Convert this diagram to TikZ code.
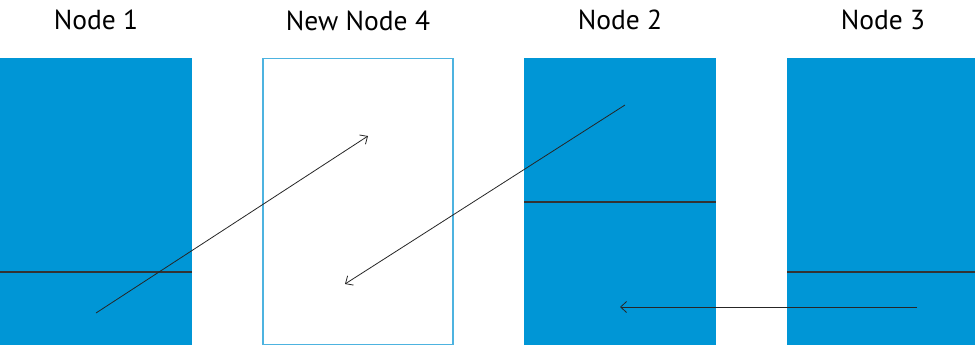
\documentclass[tikz,border=0pt]{standalone}
\usepackage{fontspec}
\newfontfamily\titlefont{PT Sans}
\usetikzlibrary{positioning,arrows.meta,calc}

\definecolor{nodeblue}{HTML}{0096D6}
\definecolor{newblue}{HTML}{4DB3E0}

\tikzset{
	memnode/.style={rectangle,fill=nodeblue,minimum width=192pt,minimum height=287pt,inner sep=0pt,outer sep=0pt},
	newnode/.style={rectangle,draw=newblue,line width=1.2pt,fill=white,minimum width=190pt,minimum height=286pt,inner sep=0pt,outer sep=0pt},
	title/.style={font=\titlefont\fontsize{27.5}{30}\selectfont,inner sep=0pt},
	split/.style={line width=1.3pt,draw=black!80},
	move/.style={draw=black!85,line width=0.8pt,-{Straight Barb[length=6pt,width=11pt]}},
}

\begin{document}
\begin{tikzpicture}[x=1pt,y=-1pt]
		\useasboundingbox (0,0) rectangle (975,346);
		% boxes
		\node[memnode,anchor=north west] at (0,58) (n1) {};
		\node[newnode,right=71pt of n1] (n4) {};
		\node[memnode,right=71pt of n4] (n2) {};
		\node[memnode,right=71pt of n2] (n3) {};
		%
		\node[title] at ($(n1.north)+(0,-38)$) (t1) {Node 1};
		\node[title] at ($(n4.north)+(0,-38)$) (t4) {New Node 4};
		\node[title] at ($(n2.north)+(0,-38)$) (t2) {Node 2};
		\node[title] at ($(n3.north)+(0,-38)$) (t3) {Node 3};
		%
		\coordinate (s1a) at ($(n1.south west)+(0,-73)$);
		\coordinate (s1b) at ($(n1.south east)+(0,-73)$);
		\coordinate (s2a) at ($(n2.north west)+(0,144)$);
		\coordinate (s2b) at ($(n2.north east)+(0,144)$);
		\coordinate (s3a) at ($(n3.south west)+(0,-73)$);
		\coordinate (s3b) at ($(n3.south east)+(0,-73)$);
		\draw[split] (s1a) -- (s1b);
		\draw[split] (s2a) -- (s2b);
		\draw[split] (s3a) -- (s3b);
		%
		\coordinate (a1) at (96,313);
		\coordinate (b1) at (368,136);
		\coordinate (a2) at (625,105);
		\coordinate (b2) at (345,284);
		\coordinate (a3) at (917,307);
		\coordinate (b3) at (620,307);
		\draw[move] (a1) -- (b1);
		\draw[move] (a2) -- (b2);
		\draw[move] (a3) -- (b3);
	\end{tikzpicture}
\end{document}
